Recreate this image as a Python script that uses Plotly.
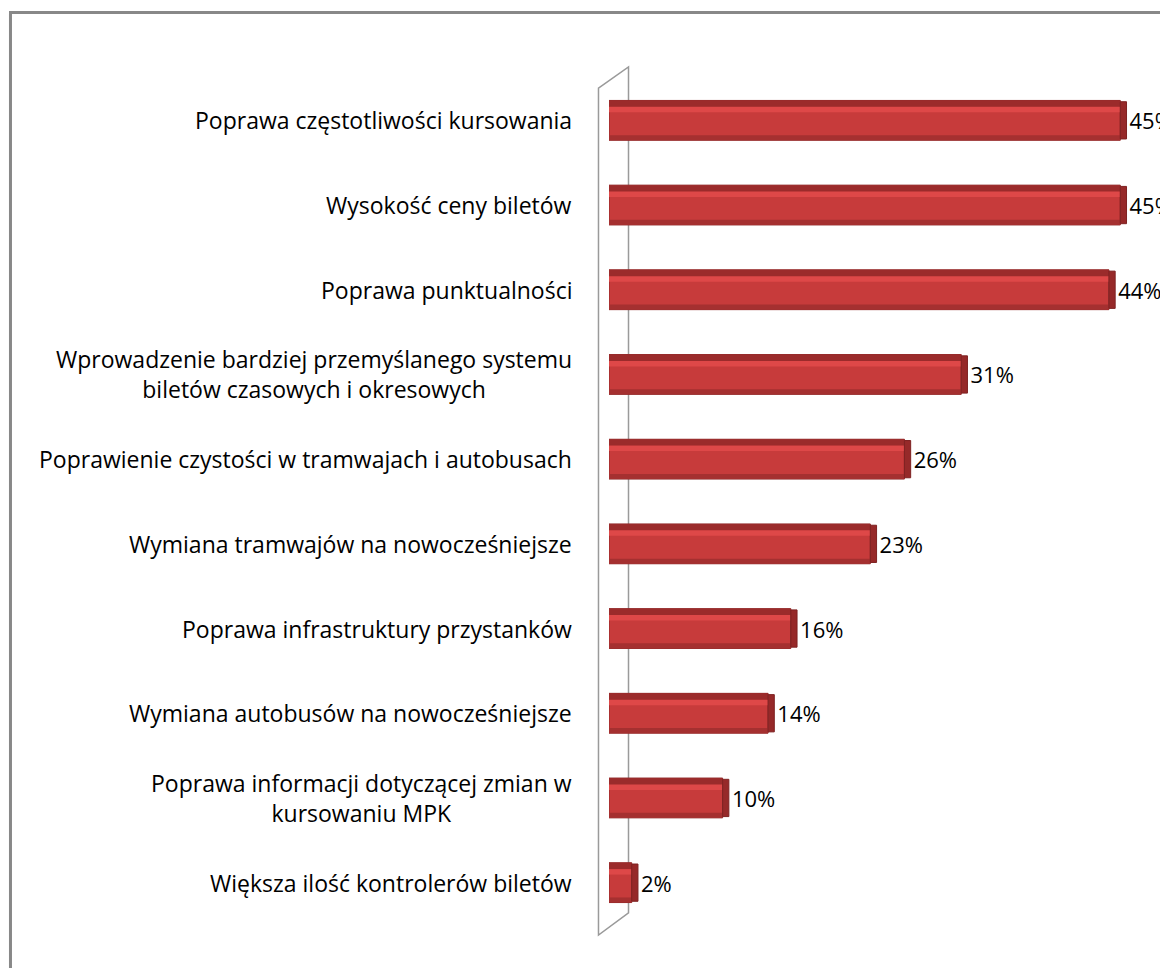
# Horizontal bar chart - oczekiwane zmiany w MPK
import plotly.graph_objects as go

categories = [
    "Poprawa częstotliwości kursowania",
    "Wysokość ceny biletów",
    "Poprawa punktualności",
    "Wprowadzenie bardziej przemyślanego systemu<br>biletów czasowych i okresowych",
    "Poprawienie czystości w tramwajach i autobusach",
    "Wymiana tramwajów na nowocześniejsze",
    "Poprawa infrastruktury przystanków",
    "Wymiana autobusów na nowocześniejsze",
    "Poprawa informacji dotyczącej zmian w<br>kursowaniu MPK",
    "Większa ilość kontrolerów biletów",
]
values = [45, 45, 44, 31, 26, 23, 16, 14, 10, 2]
value_labels = ["45%", "45%", "44%", "31%", "26%", "23%", "16%", "14%", "10%", "2%"]

FONT = "Open Sans"
FSIZE = 23
BAR_W = 0.47
CAP = 0.55  # depth of the 3d end face, in axis units

fig = go.Figure()

# front face of bar
fig.add_bar(y=categories, x=values, orientation="h", width=BAR_W,
            marker=dict(color="#c73b3b", line=dict(color="#8f2727", width=1)),
            hoverinfo="skip")
# bottom shade
fig.add_bar(y=categories, x=values, orientation="h", width=0.06, offset=BAR_W / 2 - 0.06,
            marker=dict(color="#a53030", line_width=0), hoverinfo="skip")
# light band under the top edge
fig.add_bar(y=categories, x=values, orientation="h", width=0.07, offset=-BAR_W / 2 + 0.07,
            marker=dict(color="#de4848", line_width=0), hoverinfo="skip")
# dark top edge
fig.add_bar(y=categories, x=values, orientation="h", width=0.075, offset=-BAR_W / 2,
            marker=dict(color="#9b2b2b", line_width=0), hoverinfo="skip")
# right end face of the 3d bar, carries the value labels
fig.add_bar(y=categories, x=[CAP] * len(values), base=values, orientation="h",
            width=BAR_W - 0.03,
            marker=dict(color="#962929", line=dict(color="#7e2222", width=1)),
            text=value_labels, textposition="outside", cliponaxis=False,
            textfont=dict(family=FONT, size=22, color="#000000"),
            hoverinfo="skip")

# category labels (centered multi-line like the original)
for c in categories:
    fig.add_annotation(x=0, y=c, xref="paper", yref="y", text=c, showarrow=False,
                       xanchor="right", yanchor="middle", align="center", xshift=-35,
                       font=dict(family=FONT, size=FSIZE, color="#000000"))

# 3d wall on the left of the bars
fig.add_shape(type="path", xref="paper", yref="paper",
              path="M -0.0188,0.988 L 0.0349,1.013 L 0.0349,0.0142 L -0.0188,-0.0118 Z",
              line=dict(color="#9a9a9a", width=1.5), fillcolor="rgba(0,0,0,0)", layer="below")

# outer frame of the picture
fig.add_shape(type="rect", xref="paper", yref="paper",
              x0=-1.0707, y0=-0.2, x1=1.2, y1=1.0773,
              line=dict(color="#888888", width=3))

# page body has an 8px margin; figure fills the rest of the window
fig.update_layout(
    width=1160, height=960,
    margin=dict(l=601, r=0, t=70, b=43),
    barmode="overlay",
    showlegend=False,
    paper_bgcolor="white",
    plot_bgcolor="white",
    xaxis=dict(range=[0, 49.2], visible=False),
    yaxis=dict(autorange="reversed", showticklabels=False, showgrid=False,
               zeroline=False, showline=False, ticks=""),
    font=dict(family=FONT),
)

fig.write_html("out.html")
